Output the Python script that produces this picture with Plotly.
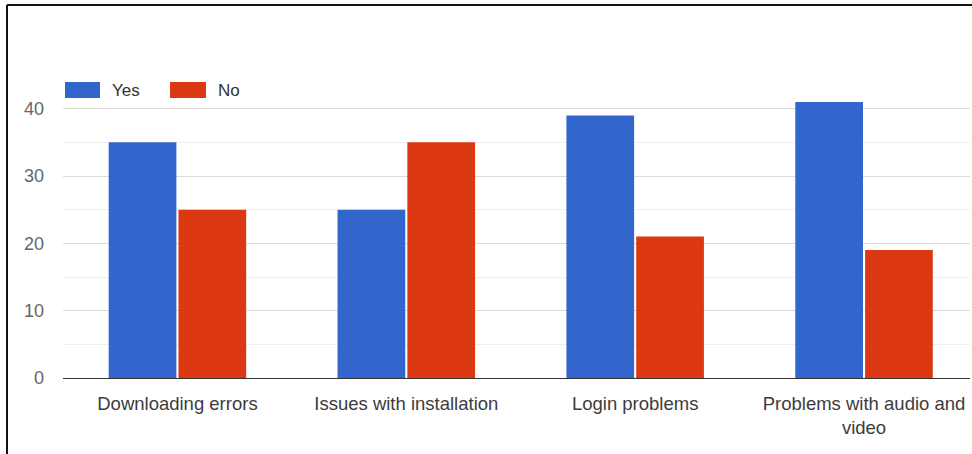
import plotly.graph_objects as go

categories = ["Downloading errors", "Issues with installation", "Login problems",
              "Problems with audio and<br>video"]
yes_values = [35, 25, 39, 41]
no_values = [25, 35, 21, 19]
series_names = ["Yes", "No"]
series_colors = ["#3366CC", "#DC3912"]
y_ticks = [0, 10, 20, 30, 40]

W, H = 972, 454
L, R, T, B = 63, 2, 75, 76
pw, ph = W - L - R, H - T - B


def px_x(x):
    return (x - L) / pw


def px_y(y):
    return 1 - (y - T) / ph


FONT = "Liberation Sans, Arial, sans-serif"

fig = go.Figure()
for name, vals, col in zip(series_names, [yes_values, no_values], series_colors):
    fig.add_trace(go.Bar(x=categories, y=vals, name=name, marker_color=col,
                         marker_line_width=0, showlegend=False))

fig.update_layout(
    width=W, height=H,
    margin=dict(l=L, r=R, t=T, b=B, pad=0),
    paper_bgcolor="white", plot_bgcolor="white",
    barmode="group", bargap=0.39, bargroupgap=0.03,
    font=dict(family=FONT, size=17, color="#444444"),
)
fig.update_xaxes(range=[-0.5, 3.463], showgrid=False, ticks="", showline=False,
                 tickfont=dict(size=18.5, color="#3c3c3c"), ticklabelstandoff=12)
fig.update_yaxes(range=[0, 45], tickvals=y_ticks, showgrid=True, gridcolor="#dadada",
                 gridwidth=1, zeroline=True, zerolinecolor="#333333", zerolinewidth=1,
                 ticks="", ticklabelstandoff=18, tickfont=dict(size=18, color="#666666"),
                 minor=dict(tickvals=[5, 15, 25, 35, 45], showgrid=True,
                            gridcolor="#eeeeee", gridwidth=1))

# frame lines along the top and left edges
fig.add_shape(type="line", xref="paper", yref="paper", x0=px_x(7), x1=px_x(972),
              y0=px_y(5), y1=px_y(5), line=dict(color="#111111", width=2))
fig.add_shape(type="line", xref="paper", yref="paper", x0=px_x(7), x1=px_x(7),
              y0=px_y(5), y1=px_y(454), line=dict(color="#111111", width=2))

# legend: swatches and labels
legend_items = [(65, 100, 110), (170, 206, 216)]
for (x0, x1, tx), name, col in zip(legend_items, series_names, series_colors):
    fig.add_shape(type="rect", xref="paper", yref="paper", x0=px_x(x0), x1=px_x(x1),
                  y0=px_y(98), y1=px_y(82), fillcolor=col, line_width=0)
    fig.add_annotation(xref="paper", yref="paper", x=px_x(tx), y=px_y(90), text=name,
                       showarrow=False, xanchor="left", yanchor="middle",
                       font=dict(size=17, color="#333333"))

fig.write_html("out.html")
